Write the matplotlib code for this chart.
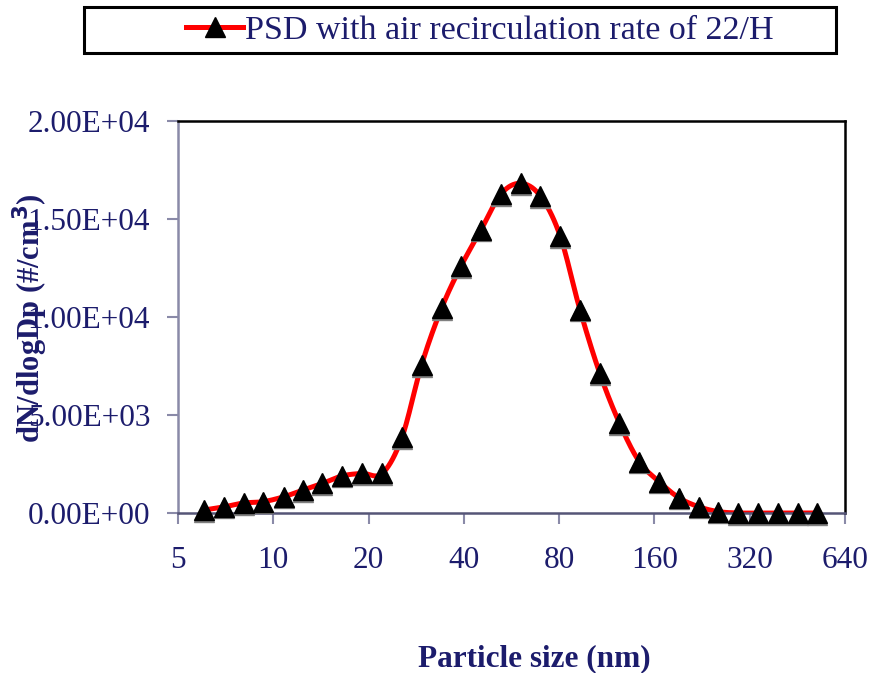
import numpy as np
import matplotlib
matplotlib.use("Agg")
import matplotlib.pyplot as plt
from matplotlib.ticker import FixedLocator, NullLocator
from matplotlib.lines import Line2D
from matplotlib.patches import Rectangle

# Data
particle_size_nm = [6.04, 6.98, 8.06, 9.31, 10.8, 12.4, 14.3, 16.5, 19.1, 22.1,
                    25.5, 29.4, 34.0, 39.2, 45.3, 52.3, 60.4, 69.8, 80.6, 93.1,
                    107.5, 124.1, 143.3, 165.5, 191.1, 220.7, 254.8, 294.3,
                    339.8, 392.4, 453.2, 523.3]
dN_dlogDp = [150, 310, 510, 580, 830, 1170, 1510, 1890, 2020, 2020,
             3860, 7550, 10440, 12600, 14440, 16260, 16820, 16170, 14130, 10360,
             7130, 4580, 2620, 1600, 780, 320, 70, 0,
             0, 0, 0, 0]
x_ticks = [5, 10, 20, 40, 80, 160, 320, 640]
y_ticks = [0, 5000, 10000, 15000, 20000]
y_tick_labels = ["0.00E+00", "5.00E+03", "1.00E+04", "1.50E+04", "2.00E+04"]
series_name = "PSD with air recirculation rate of 22/H"

NAVY = "#1c1c6c"
AXGRAY = "#8a8aa8"
SERIF = ["Liberation Serif", "DejaVu Serif"]

fig = plt.figure(figsize=(8.71, 6.73), dpi=100)
ax = fig.add_axes([178/871, 1-513/673, (845-178)/871, (513-121)/673])

# smooth curve (Catmull-Rom) through the data in log2(x) space
lx = np.log2(np.array(particle_size_nm, dtype=float))
yy = np.array(dN_dlogDp, dtype=float)
P = np.column_stack([lx, yy])
Pext = np.vstack([P[0], P, P[-1]])
seg = []
t = np.linspace(0, 1, 20)[:, None]
for i in range(1, len(Pext) - 2):
    p0, p1, p2, p3 = Pext[i-1], Pext[i], Pext[i+1], Pext[i+2]
    c = 0.5 * ((2*p1) + (-p0 + p2)*t + (2*p0 - 5*p1 + 4*p2 - p3)*t**2 + (-p0 + 3*p1 - 3*p2 + p3)*t**3)
    seg.append(c if i == 1 else c[1:])
curve = np.vstack(seg)
ax.plot(2**curve[:, 0], curve[:, 1], color="#ff0000", lw=3.6, zorder=2, solid_capstyle="round")
# marker shadows
ax.plot(particle_size_nm, dN_dlogDp, ls="none", marker="^", ms=14, color="#808080",
        transform=ax.transData + matplotlib.transforms.ScaledTranslation(0, -1.5/100, fig.dpi_scale_trans),
        zorder=3, clip_on=False)
ax.plot(particle_size_nm, dN_dlogDp, ls="none", marker="^", ms=14, color="black", zorder=4, clip_on=False)

ax.set_xscale("log", base=2)
ax.set_xlim(5, 640)
ax.set_ylim(0, 20000)
ax.xaxis.set_major_locator(FixedLocator(x_ticks))
ax.xaxis.set_minor_locator(NullLocator())
ax.set_xticklabels([str(v) for v in x_ticks])
ax.set_yticks(y_ticks)
ax.set_yticklabels(y_tick_labels)

for lab in ax.get_xticklabels() + ax.get_yticklabels():
    lab.set_family(SERIF)
    lab.set_fontsize(22.5)
    lab.set_color(NAVY)
ax.tick_params(axis="both", direction="out", length=8, width=1.5, color=AXGRAY)
ax.tick_params(axis="y", pad=12)
ax.tick_params(axis="x", pad=16)

ax.spines["left"].set_color(AXGRAY)
ax.spines["left"].set_linewidth(1.8)
ax.spines["bottom"].set_color("#555577")
ax.spines["bottom"].set_linewidth(1.8)
for s in ("top", "right"):
    ax.spines[s].set_color("black")
    ax.spines[s].set_linewidth(1.8)

fig.text(30/871, 1-318/673, r"dN/dlogDp (#/cm$^{\mathbf{3}}$)", rotation=90, ha="center", va="center",
         family=SERIF, fontweight="bold", fontsize=22, color=NAVY)
fig.text(534/871, 1-659/673, "Particle size (nm)", ha="center", va="center",
         family=SERIF, fontweight="bold", fontsize=22.5, color=NAVY)

# legend box
fig.patches.append(Rectangle((84/871, 1-53/673), (836-84)/871, (53-7)/673,
                             transform=fig.transFigure, facecolor="white",
                             edgecolor="black", lw=2.2, zorder=0))
handle = Line2D([], [], color="#ff0000", lw=3.6, marker="^", ms=14, mfc="black", mec="black")
leg = fig.legend([handle], [series_name], loc="center left", bbox_to_anchor=(186/871, 1-31/673),
                 frameon=False, handlelength=1.68, handletextpad=0.06, borderpad=0,
                 borderaxespad=0, prop={"family": SERIF, "size": 24.5})
for txt in leg.get_texts():
    txt.set_color(NAVY)

fig.savefig("out.png", dpi=100)
